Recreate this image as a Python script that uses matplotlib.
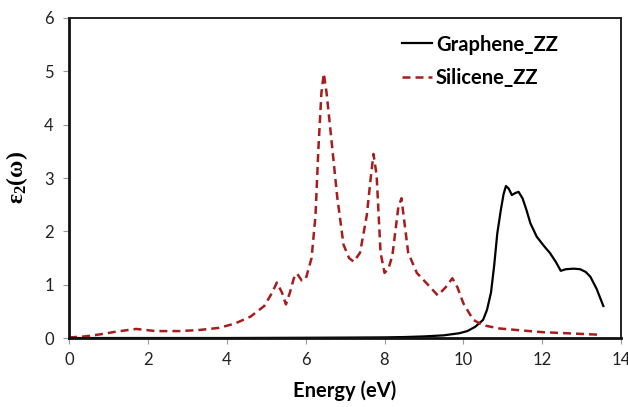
import matplotlib
matplotlib.use("Agg")
import matplotlib.pyplot as plt

# Imaginary part of the dielectric function for zigzag graphene and silicene
silicene_energy = [0, 0.4, 0.8, 1.2, 1.7, 2.2, 2.8, 3.3, 3.8, 4.2, 4.6, 4.95, 5.15, 5.27,
                   5.4, 5.5, 5.6, 5.7, 5.78, 5.9, 6.0, 6.15, 6.25, 6.32, 6.4, 6.46, 6.53,
                   6.62, 6.8, 6.96, 7.1, 7.22, 7.38, 7.55, 7.65, 7.72, 7.8, 7.9, 8.0, 8.1,
                   8.2, 8.35, 8.43, 8.5, 8.6, 8.82, 9.1, 9.35, 9.55, 9.72, 9.85, 10.0,
                   10.25, 10.5, 10.9, 11.35, 12.0, 12.6, 13.5]
silicene_eps2 = [0.01, 0.03, 0.07, 0.12, 0.17, 0.13, 0.13, 0.15, 0.19, 0.27, 0.40, 0.60,
                 0.85, 1.04, 0.85, 0.63, 0.85, 1.12, 1.21, 1.08, 1.10, 1.5, 2.3, 3.5, 4.6,
                 4.96, 4.6, 3.96, 2.65, 1.75, 1.5, 1.43, 1.6, 2.3, 3.0, 3.45, 3.05, 1.6,
                 1.22, 1.3, 1.55, 2.45, 2.62, 2.2, 1.6, 1.22, 1.0, 0.80, 0.95, 1.12, 0.95,
                 0.65, 0.34, 0.24, 0.18, 0.15, 0.11, 0.09, 0.06]

graphene_energy = [0, 2, 4, 6, 7, 8, 8.5, 9.0, 9.5, 9.9, 10.1, 10.3, 10.5, 10.6, 10.7,
                   10.78, 10.86, 10.95, 11.02, 11.08, 11.15, 11.23, 11.32, 11.4, 11.5,
                   11.6, 11.7, 11.86, 12.05, 12.2, 12.35, 12.47, 12.6, 12.8, 12.96, 13.1,
                   13.22, 13.38, 13.55]
graphene_eps2 = [0, 0, 0, 0.005, 0.008, 0.012, 0.018, 0.03, 0.05, 0.09, 0.13, 0.21, 0.34,
                 0.53, 0.85, 1.35, 1.96, 2.4, 2.7, 2.85, 2.8, 2.68, 2.72, 2.74, 2.62, 2.4,
                 2.15, 1.9, 1.72, 1.59, 1.42, 1.26, 1.29, 1.3, 1.29, 1.24, 1.15, 0.92, 0.6]

x_ticks = [0, 2, 4, 6, 8, 10, 12, 14]
y_ticks = [0, 1, 2, 3, 4, 5, 6]

plt.rcParams["font.family"] = ["Lato", "DejaVu Sans"]
plt.rcParams["mathtext.fontset"] = "custom"
plt.rcParams["mathtext.rm"] = "Liberation Serif:bold"
plt.rcParams["mathtext.it"] = "Liberation Serif:bold"
plt.rcParams["mathtext.bf"] = "Liberation Serif:bold"

fig = plt.figure(figsize=(6.28, 4.07), dpi=100)
ax = fig.add_axes([0.110, 0.1695, 0.879, 0.7863])

ax.plot(graphene_energy, graphene_eps2, color="black", lw=1.6, label="Graphene_ZZ")
ax.plot(silicene_energy, silicene_eps2, color="#a81c1c", lw=1.8,
        dashes=(3.2, 2.0), label="Silicene_ZZ")

ax.set_xlim(0, 14)
ax.set_ylim(0, 6)
ax.set_xticks(x_ticks)
ax.set_yticks(y_ticks)
ax.tick_params(axis="both", direction="out", length=4, width=0.8, color="#999999",
               labelsize=12, labelcolor="#222222")
ax.tick_params(axis="x", pad=6)
ax.tick_params(axis="y", pad=7)

for side in ["left", "bottom"]:
    ax.spines[side].set_linewidth(2.0)
    ax.spines[side].set_color("#111111")
for side in ["top", "right"]:
    ax.spines[side].set_linewidth(1.4)
    ax.spines[side].set_color("#222222")

ax.set_xlabel("Energy (eV)", fontsize=14.5, fontweight="bold", labelpad=9)
ax.set_ylabel(r"$\varepsilon_2(\omega)$", fontsize=17, labelpad=10)

leg = ax.legend(loc="upper left", bbox_to_anchor=(0.57, 1.005), frameon=False,
                prop={"family": ["Lato", "DejaVu Sans"], "weight": "bold", "size": 14.5},
                handlelength=1.5, handletextpad=0.2, labelspacing=0.65)

fig.savefig("out.png", dpi=100)
